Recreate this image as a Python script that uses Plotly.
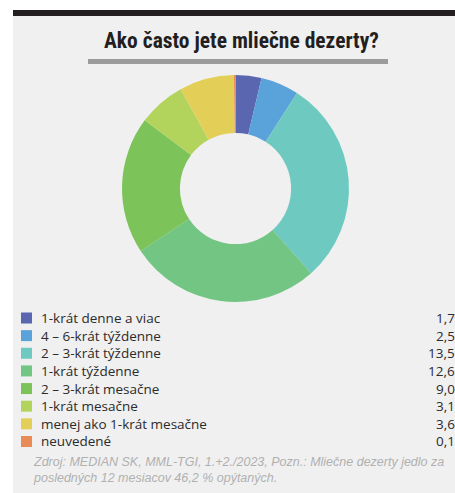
import plotly.graph_objects as go

W, H = 455, 493

labels = ["1-krát denne a viac", "4 – 6-krát týždenne", "2 – 3-krát týždenne",
          "1-krát týždenne", "2 – 3-krát mesačne", "1-krát mesačne",
          "menej ako 1-krát mesačne", "neuvedené"]
values = [1.7, 2.5, 13.5, 12.6, 9.0, 3.1, 3.6, 0.1]
colors = ["#5b66b0", "#5aa2da", "#6ecac0", "#72c583", "#7cc35a", "#b3d45c",
          "#e3cf58", "#e98b56"]
title = "Ako často jete mliečne dezerty?"
note_lines = ["Zdroj: MEDIAN SK, MML-TGI, 1.+2./2023, Pozn.: Mliečne dezerty jedlo za",
              "posledných 12 mesiacov 46,2 % opýtaných."]


def px(x):
    return x / W


def py(y):
    return 1 - y / H


fig = go.Figure()
fig.add_trace(go.Pie(
    labels=labels, values=values, sort=False, direction="clockwise", rotation=0,
    hole=0.49, textinfo="none", hoverinfo="label+value",
    marker=dict(colors=colors, line=dict(width=0)),
    domain=dict(x=[px(122), px(349)], y=[py(302), py(75)]),
    showlegend=False,
))

shapes = [
    dict(type="rect", xref="paper", yref="paper", x0=px(13), x1=px(455), y0=py(493), y1=py(16),
         fillcolor="#f0f0f0", line=dict(width=0), layer="below"),
    dict(type="rect", xref="paper", yref="paper", x0=px(13), x1=px(455), y0=py(16), y1=py(10),
         fillcolor="#231f20", line=dict(width=0), layer="below"),
    dict(type="rect", xref="paper", yref="paper", x0=px(88), x1=px(388), y0=py(64), y1=py(59),
         fillcolor="#9b9b9b", line=dict(width=0), layer="below"),
]
annotations = [
    dict(text="<b>" + title + "</b>", x=px(241), y=py(41), xref="paper", yref="paper",
         showarrow=False, xanchor="center", yanchor="middle",
         font=dict(family="Liberation Sans Narrow, Roboto Condensed, Arial Narrow, sans-serif",
                   size=21.5, color="#231f20")),
]
for j, line in enumerate(note_lines):
    annotations.append(dict(text="<i>" + line + "</i>", x=px(31), y=py(462 + j * 16),
                            xref="paper", yref="paper", showarrow=False,
                            xanchor="left", yanchor="middle", align="left",
                            font=dict(family="Liberation Sans, Arial, sans-serif",
                                      size=12.5, color="#b0b0b0")))

row0, step = 318, 17.64
for i, (lab, val, col) in enumerate(zip(labels, values, colors)):
    yc = row0 + i * step
    shapes.append(dict(type="rect", xref="paper", yref="paper",
                       x0=px(21), x1=px(32), y0=py(yc + 5.5), y1=py(yc - 5.5),
                       fillcolor=col, line=dict(width=0)))
    annotations.append(dict(text=lab, x=px(39), y=py(yc), xref="paper", yref="paper",
                            showarrow=False, xanchor="left", yanchor="middle",
                            font=dict(family="Open Sans, sans-serif", size=13.5, color="#2b2b2b")))
    annotations.append(dict(text=f"{val:.1f}".replace(".", ","), x=px(457), y=py(yc),
                            xref="paper", yref="paper", showarrow=False,
                            xanchor="right", yanchor="middle",
                            font=dict(family="Open Sans, sans-serif", size=13.5, color="#2b2b2b")))

fig.update_layout(
    width=W, height=H, margin=dict(l=0, r=0, t=0, b=0),
    paper_bgcolor="white", plot_bgcolor="white",
    shapes=shapes, annotations=annotations,
)
fig.write_html("out.html")
